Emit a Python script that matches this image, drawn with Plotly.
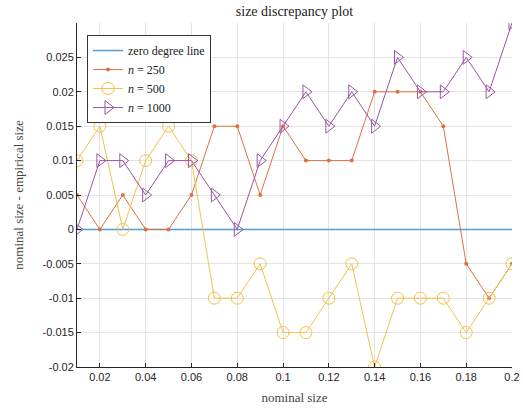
import plotly.graph_objects as go

nominal = [0.01, 0.02, 0.03, 0.04, 0.05, 0.06, 0.07, 0.08, 0.09, 0.10,
           0.11, 0.12, 0.13, 0.14, 0.15, 0.16, 0.17, 0.18, 0.19, 0.20]
zero_line = [0.0] * 20
n250 = [0.005, 0.0, 0.005, 0.0, 0.0, 0.005, 0.015, 0.015, 0.005, 0.015,
        0.01, 0.01, 0.01, 0.02, 0.02, 0.02, 0.015, -0.005, -0.01, -0.005]
n500 = [0.01, 0.015, 0.0, 0.01, 0.015, 0.01, -0.01, -0.01, -0.005, -0.015,
        -0.015, -0.01, -0.005, -0.02, -0.01, -0.01, -0.01, -0.015, -0.01, -0.005]
n1000 = [0.0, 0.01, 0.01, 0.005, 0.01, 0.01, 0.005, 0.0, 0.01, 0.015,
         0.02, 0.015, 0.02, 0.015, 0.025, 0.02, 0.02, 0.025, 0.02, 0.03]

xticks = [0.02, 0.04, 0.06, 0.08, 0.1, 0.12, 0.14, 0.16, 0.18, 0.2]
xticklabels = ["0.02", "0.04", "0.06", "0.08", "0.1", "0.12", "0.14", "0.16", "0.18", "0.2"]
yticks = [-0.02, -0.015, -0.01, -0.005, 0, 0.005, 0.01, 0.015, 0.02, 0.025]
yticklabels = ["-0.02", "-0.015", "-0.01", "-0.005", "0", "0.005", "0.01", "0.015", "0.02", "0.025"]

blue = "#4d9fd6"
orange = "#e2703f"
yellow = "#f1c24a"
purple = "#9a55a8"

fig = go.Figure()
fig.add_trace(go.Scatter(x=nominal, y=zero_line, mode="lines", name="zero degree line",
                         line=dict(color=blue, width=1.5)))
fig.add_trace(go.Scatter(x=nominal, y=n250, mode="lines+markers", name="<i>n</i> = 250",
                         line=dict(color=orange, width=1),
                         marker=dict(symbol="circle", size=4, color=orange)))
fig.add_trace(go.Scatter(x=nominal, y=n500, mode="lines+markers", name="<i>n</i> = 500",
                         line=dict(color=yellow, width=1),
                         marker=dict(symbol="circle-open", size=12, color=yellow, line=dict(width=1))))
fig.add_trace(go.Scatter(x=nominal, y=n1000, mode="lines+markers", name="<i>n</i> = 1000",
                         line=dict(color=purple, width=1),
                         marker=dict(symbol="triangle-right-open", size=12, color=purple, line=dict(width=1))))

serif = "Liberation Serif, DejaVu Serif, serif"
sans = "Liberation Sans, Arial, sans-serif"

fig.update_layout(
    width=523, height=414,
    margin=dict(l=77, r=11, t=23, b=47),
    paper_bgcolor="white", plot_bgcolor="white",
    title=dict(text="size discrepancy plot", x=0.5, xanchor="center", xref="paper",
               y=0.972, yanchor="middle",
               font=dict(family=serif, size=14, color="#222")),
    showlegend=True,
    legend=dict(x=0.023, y=0.965, xanchor="left", yanchor="top",
                bgcolor="white", bordercolor="#333", borderwidth=1,
                font=dict(family=serif, size=12, color="#222"),
                tracegroupgap=0, itemwidth=30),
    xaxis=dict(range=[0.01, 0.2], tickvals=xticks, ticktext=xticklabels,
               automargin=False,
               showgrid=True, gridcolor="#e3e3e3", gridwidth=1,
               showline=True, linecolor="#262626", linewidth=1,
               ticks="inside", ticklen=4, tickcolor="#262626",
               tickfont=dict(family=sans, size=11, color="#262626"),
               zeroline=False,
               title=dict(text="nominal size", font=dict(family=serif, size=13, color="#444"), standoff=10)),
    yaxis=dict(range=[-0.02, 0.03], tickvals=yticks, ticktext=yticklabels,
               automargin=False,
               showgrid=True, gridcolor="#e3e3e3", gridwidth=1,
               showline=True, linecolor="#262626", linewidth=1,
               ticks="inside", ticklen=4, tickcolor="#262626",
               tickfont=dict(family=sans, size=11, color="#262626"),
               zeroline=False,
               title=dict(text="nominal size - empirical size", font=dict(family=serif, size=13, color="#444"), standoff=16)),
)

fig.write_html("out.html", config={"displayModeBar": False},
               post_script="document.body.style.margin='0';document.body.style.padding='0';")
